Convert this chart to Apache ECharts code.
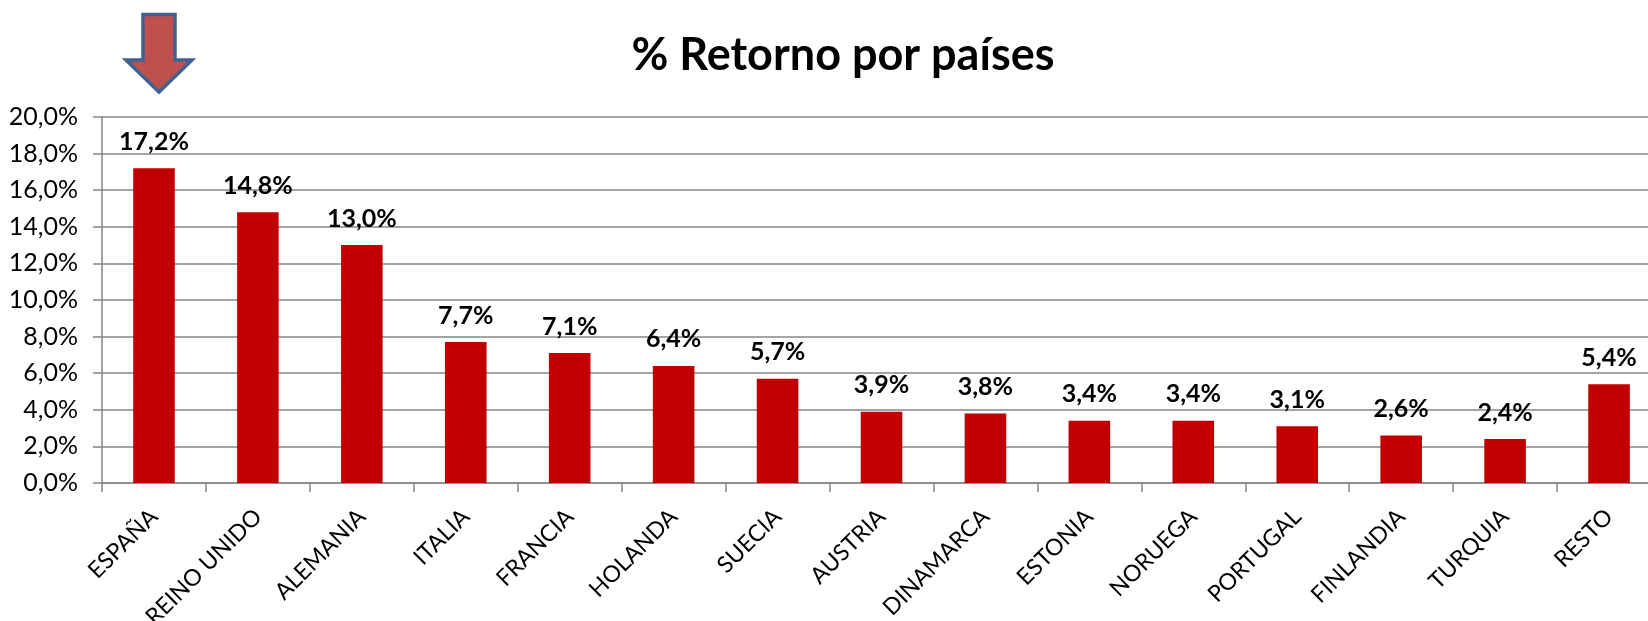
<!DOCTYPE html>
<html><head><meta charset="utf-8">
<script src="https://cdn.jsdelivr.net/npm/echarts@6/dist/echarts.min.js"></script>
<style>html,body{margin:0;padding:0;background:#fff}#c{width:1648px;height:621px}</style>
</head><body><div id="c"></div>
<script>
const categories = ['ESPAÑA','REINO UNIDO','ALEMANIA','ITALIA','FRANCIA','HOLANDA','SUECIA','AUSTRIA','DINAMARCA','ESTONIA','NORUEGA','PORTUGAL','FINLANDIA','TURQUIA','RESTO'];
const values = [17.2, 14.8, 13.0, 7.7, 7.1, 6.4, 5.7, 3.9, 3.8, 3.4, 3.4, 3.1, 2.6, 2.4, 5.4];
const titleText = '% Retorno por países';
const yTicks = {min: 0, max: 20, interval: 2};

const fmt = v => v.toFixed(1).replace('.', ',') + '%';
const FONT = 'Lato';
const chart = echarts.init(document.getElementById('c'), null, {renderer: 'canvas'});
chart.setOption({
  animation: false,
  backgroundColor: '#fff',
  title: {
    text: titleText, left: 838, top: 28, textAlign: 'center',
    textStyle: {fontFamily: FONT, fontWeight: 'bold', fontSize: 45, color: '#000'}
  },
  grid: {left: 102, top: 117, bottom: 138, right: -13, containLabel: false, outerBoundsMode: 'none'},
  xAxis: {
    type: 'category', data: categories,
    axisLine: {lineStyle: {color: '#868686', width: 1.5}},
    axisTick: {show: true, length: 9, alignWithLabel: false, lineStyle: {color: '#868686', width: 1.5}},
    axisLabel: {rotate: 45, interval: 0, margin: 30, fontFamily: FONT, fontSize: 23, color: '#000', hideOverlap: false}
  },
  yAxis: {
    type: 'value', min: yTicks.min, max: yTicks.max, interval: yTicks.interval,
    axisLine: {show: true, lineStyle: {color: '#868686', width: 1.5}},
    axisTick: {show: true, length: 9, lineStyle: {color: '#868686', width: 1.5}},
    splitLine: {lineStyle: {color: '#868686', width: 1.5}},
    axisLabel: {margin: 24, fontFamily: FONT, fontSize: 25, color: '#000', formatter: v => fmt(v)}
  },
  series: [{
    type: 'bar', data: values, barWidth: '40%',
    itemStyle: {color: '#C00000'},
    label: {show: true, position: 'top', distance: 14, fontFamily: FONT, fontWeight: 'bold', fontSize: 25, color: '#000', formatter: p => fmt(p.value)}
  }],
  graphic: [{
    type: 'polygon', z: 100,
    shape: {points: [[143,14.5],[175,14.5],[175,60],[192,60],[159,92],[126,60],[143,60]]},
    style: {fill: '#C0504D', stroke: '#3F6291', lineWidth: 3.5, lineJoin: 'miter'}
  }]
});
</script></body></html>
